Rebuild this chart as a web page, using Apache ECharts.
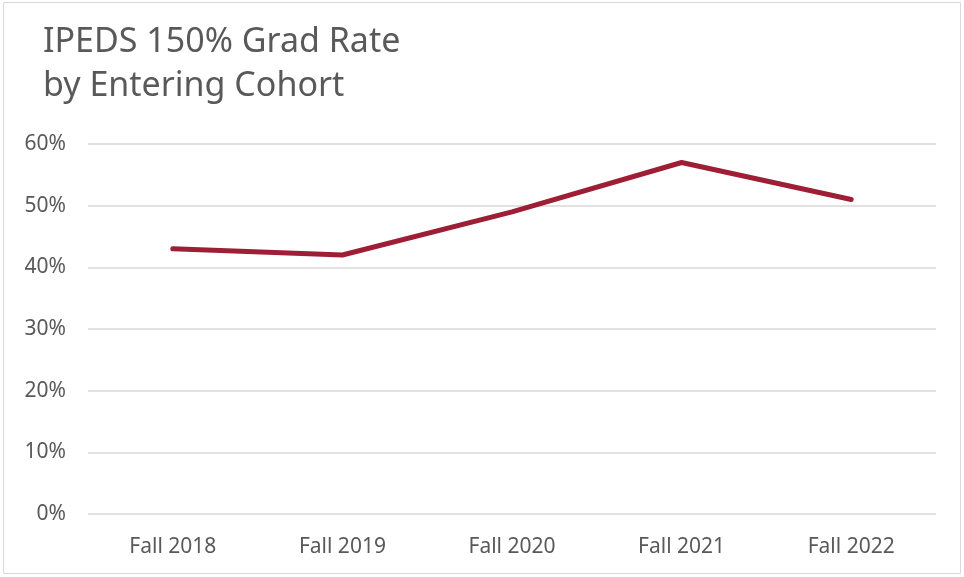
<!DOCTYPE html>
<html>
<head>
<meta charset="utf-8">
<script src="https://cdn.jsdelivr.net/npm/echarts@6/dist/echarts.min.js"></script>
<style>
  html, body { margin: 0; padding: 0; background: #fff; }
  #chart { width: 964px; height: 577px; }
</style>
</head>
<body>
<div id="chart"></div>
<script>
  // cohort labels and grad rates (%)
  const cohorts = ['Fall 2018', 'Fall 2019', 'Fall 2020', 'Fall 2021', 'Fall 2022'];
  const gradRate = [43, 42, 49, 57, 51];
  const titleText = 'IPEDS 150% Grad Rate\nby Entering Cohort';

  const chart = echarts.init(document.getElementById('chart'));
  const font = '"Noto Sans", "Open Sans", sans-serif';

  chart.setOption({
    animation: false,
    graphic: [{
      type: 'rect',
      shape: { x: 3.5, y: 2.5, width: 957, height: 571 },
      style: { fill: 'none', stroke: '#d9d9d9', lineWidth: 1 },
      silent: true
    }],
    title: {
      text: titleText,
      left: 38,
      top: 15,
      textStyle: {
        fontFamily: font,
        fontSize: 34,
        fontWeight: 'normal',
        color: '#595959',
        lineHeight: 44
      }
    },
    grid: { left: 88, right: 28, top: 144, bottom: 63 },
    xAxis: {
      type: 'category',
      data: cohorts,
      boundaryGap: true,
      axisLine: { show: false },
      axisTick: { show: false },
      axisLabel: {
        color: '#595959',
        fontFamily: font,
        fontSize: 21,
        margin: 23
      }
    },
    yAxis: {
      type: 'value',
      min: 0,
      max: 60,
      interval: 10,
      axisLine: { show: false },
      axisTick: { show: false },
      splitLine: { lineStyle: { color: '#d9d9d9', width: 1.5 } },
      axisLabel: {
        color: '#595959',
        fontFamily: font,
        fontSize: 21,
        margin: 22,
        formatter: '{value}%'
      }
    },
    series: [{
      type: 'line',
      data: gradRate,
      symbol: 'none',
      lineStyle: { color: '#9e1f35', width: 5, cap: 'round', join: 'round' }
    }]
  });
</script>
</body>
</html>
